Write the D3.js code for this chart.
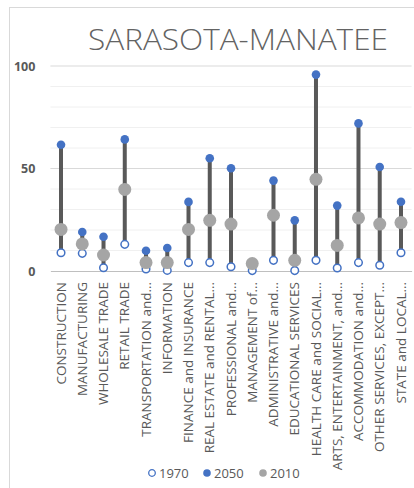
<!DOCTYPE html>
<html>
<head>
<meta charset="utf-8">
<script src="https://cdn.jsdelivr.net/npm/d3@7"></script>
<style>
  html, body { margin: 0; padding: 0; background: #fff; }
  svg { display: block; }
  text { font-family: "Open Sans", "Noto Sans", "DejaVu Sans", sans-serif; }
</style>
</head>
<body>
<svg id="chart" width="414" height="488"></svg>
<script>
// Employment by industry, Sarasota-Manatee (1970, 2010, 2050)
const categories = [
  "CONSTRUCTION", "MANUFACTURING", "WHOLESALE TRADE", "RETAIL TRADE",
  "TRANSPORTATION and\u2026", "INFORMATION", "FINANCE and INSURANCE",
  "REAL ESTATE and RENTAL\u2026", "PROFESSIONAL and\u2026", "MANAGEMENT of\u2026",
  "ADMINISTRATIVE and\u2026", "EDUCATIONAL SERVICES", "HEALTH CARE and SOCIAL\u2026",
  "ARTS, ENTERTAINMENT, and\u2026", "ACCOMMODATION and\u2026",
  "OTHER SERVICES, EXCEPT\u2026", "STATE and LOCAL\u2026"
];
const values1970 = [8.9, 8.6, 1.6, 13.0, 1.0, 0.3, 4.1, 4.1, 2.1, 0.2, 5.2, 0.2, 5.2, 1.5, 4.1, 2.8, 8.9];
const values2050 = [61.6, 19.0, 16.7, 64.2, 9.9, 11.2, 33.7, 55.0, 50.1, 3.4, 44.1, 24.7, 95.8, 31.9, 72.0, 50.7, 33.8];
const values2010 = [20.3, 13.2, 7.8, 39.8, 4.1, 4.1, 20.3, 24.7, 22.9, 3.6, 27.2, 5.2, 44.7, 12.5, 25.9, 22.9, 23.6];
const yTicks = [0, 50, 100];
const seriesNames = ["1970", "2050", "2010"];

const svg = d3.select("#chart");
const W = 414, H = 488;
const margin = { left: 50.4, right: 2.4, top: 66, bottom: 217 };

// chart frame
svg.append("rect")
  .attr("x", 9.5).attr("y", 7.5)
  .attr("width", W + 10).attr("height", H + 10)
  .attr("fill", "#fff").attr("stroke", "#d9d9d9").attr("stroke-width", 1);

const x = d3.scaleBand()
  .domain(categories)
  .range([margin.left, W - margin.right])
  .padding(0);

const y = d3.scaleLinear()
  .domain([0, 100])
  .range([H - margin.bottom, margin.top]);

// title
svg.append("text")
  .attr("x", 238).attr("y", 50)
  .attr("text-anchor", "middle")
  .attr("font-size", 30)
  .attr("font-weight", 300)
  .attr("fill", "#636363")
  .attr("textLength", 300)
  .attr("lengthAdjust", "spacingAndGlyphs")
  .text("SARASOTA-MANATEE");

// minor gridlines
const grid = svg.append("g");
grid.selectAll("line.minor")
  .data(d3.range(10, 100, 10).filter(v => v % 50 !== 0))
  .join("line")
  .attr("x1", margin.left).attr("x2", W - margin.right)
  .attr("y1", d => y(d)).attr("y2", d => y(d))
  .attr("stroke", "#f0f0f0").attr("stroke-width", 1);

// major gridlines
grid.selectAll("line.major")
  .data(yTicks.filter(v => v > 0))
  .join("line")
  .attr("x1", margin.left).attr("x2", W - margin.right)
  .attr("y1", d => y(d)).attr("y2", d => y(d))
  .attr("stroke", "#d9d9d9").attr("stroke-width", 1);

// y axis labels
const yAxis = svg.append("g")
  .attr("transform", `translate(${margin.left - 15},0)`)
  .call(d3.axisLeft(y).tickValues(yTicks).tickSize(0).tickPadding(0));
yAxis.select(".domain").remove();
yAxis.selectAll("text")
  .attr("font-size", 12.5)
  .attr("font-weight", "bold")
  .attr("fill", "#595959")
  .attr("dy", "0.35em");

// category axis
const xAxis = svg.append("g")
  .attr("transform", `translate(0,${y(0)})`)
  .call(d3.axisBottom(x).tickSize(0).tickPadding(0));
xAxis.select(".domain").attr("stroke", "#bfbfbf").attr("stroke-width", 1);
xAxis.selectAll("text")
  .attr("font-size", 13.5)
  .attr("fill", "#595959")
  .attr("text-anchor", "end")
  .attr("transform", "rotate(-90)")
  .attr("x", -11)
  .attr("y", 0)
  .attr("dy", "0.35em");

const cx = d => x(d) + x.bandwidth() / 2;

// high-low lines between 1970 and 2050
svg.append("g").selectAll("line")
  .data(categories)
  .join("line")
  .attr("x1", cx).attr("x2", cx)
  .attr("y1", (d, i) => y(values1970[i]))
  .attr("y2", (d, i) => y(values2050[i]))
  .attr("stroke", "#595959").attr("stroke-width", 4);

// 1970: hollow circles
svg.append("g").selectAll("circle")
  .data(categories)
  .join("circle")
  .attr("cx", cx).attr("cy", (d, i) => y(values1970[i]))
  .attr("r", 3.8)
  .attr("fill", "#fff").attr("stroke", "#4472c4").attr("stroke-width", 1.5);

// 2050: filled blue
svg.append("g").selectAll("circle")
  .data(categories)
  .join("circle")
  .attr("cx", cx).attr("cy", (d, i) => y(values2050[i]))
  .attr("r", 4.3)
  .attr("fill", "#4472c4");

// 2010: large grey
svg.append("g").selectAll("circle")
  .data(categories)
  .join("circle")
  .attr("cx", cx).attr("cy", (d, i) => y(values2010[i]))
  .attr("r", 6.5)
  .attr("fill", "#a5a5a5");

// legend
const legendX = [152, 207, 263];
const legend = svg.append("g").attr("transform", "translate(0,473)");
seriesNames.forEach((name, i) => {
  const g = legend.append("g").attr("transform", `translate(${legendX[i]},0)`);
  if (i === 0) {
    g.append("circle").attr("r", 3.3).attr("fill", "#fff")
      .attr("stroke", "#4472c4").attr("stroke-width", 1.3);
  } else {
    g.append("circle").attr("r", 3.8).attr("fill", i === 1 ? "#4472c4" : "#a5a5a5");
  }
  g.append("text")
    .attr("x", 7).attr("dy", "0.36em")
    .attr("font-size", 13)
    .attr("fill", "#595959")
    .text(name);
});
</script>
</body>
</html>
